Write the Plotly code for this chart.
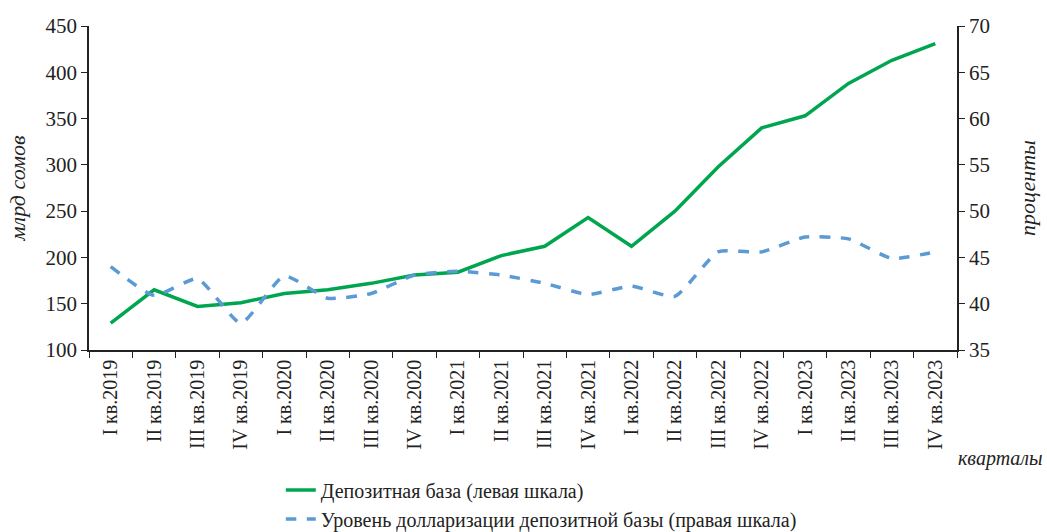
import plotly.graph_objects as go

quarters = ["I кв.2019", "II кв.2019", "III кв.2019", "IV кв.2019",
            "I кв.2020", "II кв.2020", "III кв.2020", "IV кв.2020",
            "I кв.2021", "II кв.2021", "III кв.2021", "IV кв.2021",
            "I кв.2022", "II кв.2022", "III кв.2022", "IV кв.2022",
            "I кв.2023", "II кв.2023", "III кв.2023", "IV кв.2023"]

# депозитная база, млрд сомов (левая шкала)
deposit_base = [129, 165, 147, 151, 161, 165, 172, 181,
                184, 202, 212, 243, 212, 250, 298, 340,
                353, 388, 413, 431]

# уровень долларизации, % (правая шкала)
dollarization = [44.0, 40.9, 42.7, 37.9, 43.0, 40.6, 41.1, 43.1,
                 43.5, 43.1, 42.2, 41.0, 41.9, 40.8, 45.6, 45.6,
                 47.2, 47.0, 44.9, 45.6]

font_family = "Liberation Serif, Times New Roman, serif"

fig = go.Figure()

fig.add_trace(go.Scatter(
    x=quarters, y=deposit_base,
    mode="lines",
    name="Депозитная база (левая шкала)",
    line=dict(color="#00A64F", width=3.5),
))

fig.add_trace(go.Scatter(
    x=quarters, y=dollarization,
    mode="lines",
    name="Уровень долларизации депозитной базы (правая шкала)",
    line=dict(color="#5B9BD5", width=3.5, dash="dash", shape="spline", smoothing=0.5),
    yaxis="y2",
))

fig.update_layout(
    width=1047, height=532,
    margin=dict(l=89, r=90, t=26, b=182, autoexpand=False),
    plot_bgcolor="white",
    paper_bgcolor="white",
    font=dict(family=font_family, size=21, color="#222222"),
    showlegend=True,
    legend=dict(
        orientation="v",
        x=0.221, xanchor="left",
        y=-0.372, yanchor="top",
        font=dict(size=20),
        bgcolor="rgba(0,0,0,0)",
        tracegroupgap=0,
    ),
    xaxis=dict(
        type="category",
        tickangle=-90,
        tickson="boundaries",
        ticks="outside", ticklen=6, tickcolor="#222222",
        showline=True, linecolor="#222222", linewidth=1.5,
        showgrid=False,
        tickfont=dict(size=20),
        range=[-0.5, 19.5],
        automargin=False,
    ),
    yaxis=dict(
        range=[100, 450], dtick=50,
        ticks="outside", ticklen=6, tickcolor="#222222",
        showline=True, linecolor="#222222", linewidth=1.5,
        showgrid=False, zeroline=False,
        automargin=False,
        title=dict(text="<i>млрд сомов</i>", standoff=14, font=dict(size=22)),
    ),
    yaxis2=dict(
        overlaying="y", side="right",
        range=[35, 70], dtick=5,
        ticks="outside", ticklen=6, tickcolor="#222222",
        showline=True, linecolor="#222222", linewidth=1.5,
        showgrid=False, zeroline=False,
        automargin=False,
        title=dict(text="<i>проценты</i>", standoff=31, font=dict(size=22)),
    ),
    annotations=[dict(
        x=0.999, y=-0.335, xref="paper", yref="paper",
        text="<i>кварталы</i>", showarrow=False,
        xanchor="left", yanchor="middle",
        font=dict(size=20),
    )],
)

fig.write_html("out.html", config={"displayModeBar": False},
               post_script="document.body.style.margin='0';")
